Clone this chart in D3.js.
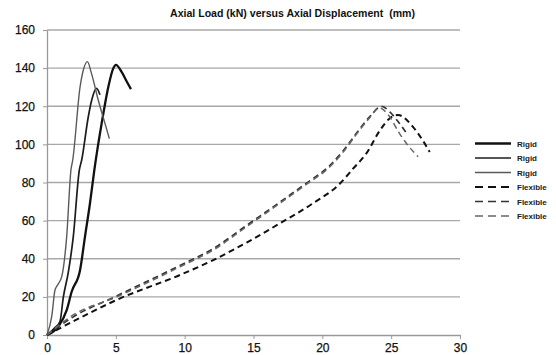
<!DOCTYPE html>
<html>
<head>
<meta charset="utf-8">
<script src="https://cdn.jsdelivr.net/npm/d3@7"></script>
<style>
  body { margin: 0; background: #fff; }
  svg { display: block; }
</style>
</head>
<body>
<div id="chart"></div>
<script>
// Axial displacement (mm) / axial load (kN)
const rigid1 = [[0,0],[0.82,4.4],[1.43,13],[1.79,22.7],[2.4,34],[2.76,51.6],[3.12,69],[3.44,86.6],[3.97,111],[4.45,130],[4.82,140],[5.01,141.7],[5.42,138],[5.79,133],[6.1,129]];
const rigid2 = [[0,0],[0.6,4],[0.94,7],[1.19,20],[1.55,33],[1.91,51.6],[2.35,86.6],[2.52,91.8],[3.0,114.5],[3.24,123],[3.6,129.4],[3.85,126]];
const rigid3 = [[0,0],[0.35,10],[0.58,23.6],[0.75,26],[1.07,30.6],[1.43,51.6],[1.74,86.6],[1.87,91.8],[2.4,130],[2.64,139],[2.93,143.4],[3.24,137],[3.73,123],[4.21,111],[4.53,103]];
const flexible1 = [[0,0],[2,7.5],[5.06,18.4],[9.66,31.5],[12.08,39.3],[14.5,48.5],[16.9,58.5],[19.3,69],[21.3,79.6],[22.2,87],[23.2,95.3],[24.2,107.5],[24.9,113.7],[25.5,115.4],[26.6,109],[27.3,102],[27.8,96]];
const flexible2 = [[0,0],[1.91,9.5],[5.06,20.5],[9.66,36.5],[12.08,45.3],[14.5,57.5],[16.9,69.6],[18.6,78.4],[20.55,89],[21.5,96.5],[22.6,107],[23.5,115],[24.3,120],[24.9,117],[25.5,112],[26.1,106]];
const flexible3 = [[0,0],[1.91,10.5],[5.06,20],[9.66,35.8],[12.08,44.6],[14.5,56.8],[16.9,69],[18.6,77.8],[20.55,88.3],[21.5,95.8],[22.6,106.5],[23.5,114.5],[24.1,119.3],[24.8,115.4],[25.6,105.8],[26.1,100.6],[26.96,93.5]];

const seriesNames = ["Rigid","Rigid","Rigid","Flexible","Flexible","Flexible"];
const xTicks = [0,5,10,15,20,25,30];
const yTicks = [0,20,40,60,80,100,120,140,160];
const titleText = "Axial Load (kN) versus Axial Displacement\u00a0 (mm)";

const series = [rigid1, rigid2, rigid3, flexible1, flexible2, flexible3];
const styles = [
  {color:"#111", width:2.3, dash:null},
  {color:"#1c1c1c", width:1.7, dash:null},
  {color:"#5a5a5a", width:1.4, dash:null},
  {color:"#111", width:2.0, dash:"6,4"},
  {color:"#333", width:1.7, dash:"6,4"},
  {color:"#666", width:1.5, dash:"6,4"}
];

const W = 556, H = 355;
const svg = d3.select("#chart").append("svg")
  .attr("width", W).attr("height", H)
  .style("font-family", "'Liberation Sans', Arial, sans-serif");

const x = d3.scaleLinear().domain([0, 30]).range([47, 460]);
const y = d3.scaleLinear().domain([0, 160]).range([335, 30]);

// gridlines
svg.append("g")
  .selectAll("line")
  .data(yTicks.filter(d => d > 0))
  .enter().append("line")
    .attr("x1", x(0)).attr("x2", x(30))
    .attr("y1", d => y(d)).attr("y2", d => y(d))
    .attr("stroke", "#a8a8a8")
    .attr("stroke-width", 1.3);

// axes
const gx = svg.append("g")
  .attr("transform", "translate(0," + y(0) + ")")
  .call(d3.axisBottom(x).tickValues(xTicks).tickSize(4).tickPadding(4).tickSizeOuter(0));
const gy = svg.append("g")
  .attr("transform", "translate(" + x(0) + ",0)")
  .call(d3.axisLeft(y).tickValues(yTicks).tickSize(4).tickPadding(8).tickSizeOuter(0));

[gx, gy].forEach(g => {
  g.select(".domain").attr("stroke", "#999").attr("stroke-width", 1.3);
  g.selectAll(".tick line").attr("stroke", "#999");
  g.selectAll(".tick text")
    .attr("fill", "#111")
    .attr("stroke", "#111")
    .attr("stroke-width", 0.25)
    .style("font-size", "12px")
    .style("font-family", "'Liberation Sans', Arial, sans-serif");
});

// title
svg.append("text")
  .attr("x", 170).attr("y", 17)
  .attr("textLength", 245)
  .attr("lengthAdjust", "spacingAndGlyphs")
  .attr("fill", "#111")
  .style("font-size", "11px")
  .style("font-weight", "bold")
  .text(titleText);

// curves
const line = d3.line()
  .x(d => x(d[0]))
  .y(d => y(d[1]))
  .curve(d3.curveMonotoneX);

svg.append("g")
  .selectAll("path")
  .data(series)
  .enter().append("path")
    .attr("d", d => line(d))
    .attr("fill", "none")
    .attr("stroke", (d, i) => styles[i].color)
    .attr("stroke-width", (d, i) => styles[i].width)
    .attr("stroke-dasharray", (d, i) => styles[i].dash)
    .attr("stroke-linejoin", "round");

// legend
const legendY = d3.scalePoint().domain(d3.range(6)).range([143.5, 216]);
const legend = svg.append("g");
const rows = legend.selectAll("g")
  .data(seriesNames)
  .enter().append("g")
    .attr("transform", (d, i) => "translate(0," + legendY(i) + ")");

rows.append("line")
  .attr("x1", 475).attr("x2", 511)
  .attr("stroke", (d, i) => styles[i].color)
  .attr("stroke-width", (d, i) => styles[i].width)
  .attr("stroke-dasharray", (d, i) => styles[i].dash ? "8,5" : null);

rows.append("text")
  .attr("x", 517).attr("y", 3)
  .attr("fill", "#1a1a1a")
  .style("font-size", "8px")
  .style("font-weight", "bold")
  .text(d => d);
</script>
</body>
</html>
